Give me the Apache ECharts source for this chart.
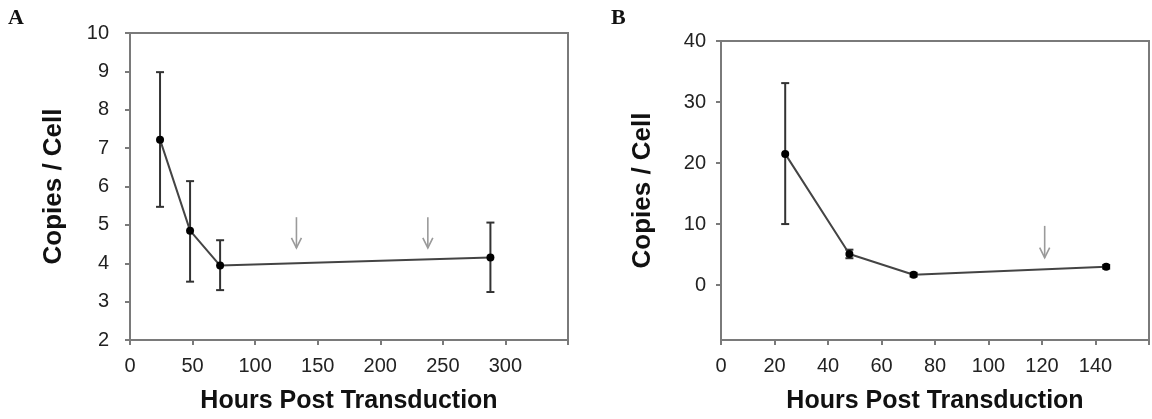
<!DOCTYPE html>
<html>
<head>
<meta charset="utf-8">
<script src="https://cdn.jsdelivr.net/npm/echarts@6/dist/echarts.min.js"></script>
<style>
  html, body { margin: 0; padding: 0; background: #fff; }
  #chart { width: 1152px; height: 419px; }
</style>
</head>
<body>
<div id="chart"></div>
<script>
// panel A
var hoursA = [24, 48, 72, 288];
var copiesA = [7.22, 4.85, 3.94, 4.15];
var lowA = [5.47, 3.52, 3.30, 3.25];
var highA = [8.98, 6.14, 4.60, 5.06];
var arrowHoursA = [133, 238];
var arrowTopA = 5.2, arrowTipA = 4.4;

// panel B
var hoursB = [24, 48, 72, 144];
var copiesB = [21.5, 5.1, 1.7, 3.0];
var lowB = [10.0, 4.4, 1.4, 2.7];
var highB = [33.1, 5.8, 2.0, 3.3];
var arrowHoursB = [121];
var arrowTopB = 9.7, arrowTipB = 4.5;

var yTicksB = [0, 10, 20, 30, 40];

var font = 'Liberation Sans, Arial, sans-serif';
var axisGray = '#7a7a7a';

function pairs(xs, ys) {
  var res = [];
  for (var i = 0; i < xs.length; i++) res.push([xs[i], ys[i]]);
  return res;
}
function errData(xs, lo, hi) {
  var res = [];
  for (var i = 0; i < xs.length; i++) res.push([xs[i], lo[i], hi[i]]);
  return res;
}
function arrowData(xs, top, tip) {
  var res = [];
  for (var i = 0; i < xs.length; i++) res.push([xs[i], top, tip]);
  return res;
}

function renderErr(params, api) {
  var x = api.value(0);
  var pLo = api.coord([x, api.value(1)]);
  var pHi = api.coord([x, api.value(2)]);
  var w = 4;
  var st = { stroke: '#333', lineWidth: 2 };
  return {
    type: 'group',
    children: [
      { type: 'line', shape: { x1: pLo[0], y1: pLo[1], x2: pHi[0], y2: pHi[1] }, style: st },
      { type: 'line', shape: { x1: pLo[0] - w, y1: pLo[1], x2: pLo[0] + w, y2: pLo[1] }, style: st },
      { type: 'line', shape: { x1: pHi[0] - w, y1: pHi[1], x2: pHi[0] + w, y2: pHi[1] }, style: st }
    ]
  };
}

function renderArrow(params, api) {
  var x = api.value(0);
  var pTop = api.coord([x, api.value(1)]);
  var pTip = api.coord([x, api.value(2)]);
  var st = { stroke: '#9a9a9a', lineWidth: 1.6, fill: null };
  return {
    type: 'group',
    children: [
      { type: 'line', shape: { x1: pTop[0], y1: pTop[1], x2: pTip[0], y2: pTip[1] }, style: st },
      { type: 'polyline', shape: { points: [[pTip[0] - 5, pTip[1] - 10], [pTip[0], pTip[1]], [pTip[0] + 5, pTip[1] - 10]] }, style: st }
    ]
  };
}

function xAxisCfg(idx, max, step) {
  return {
    type: 'value', gridIndex: idx, min: 0, max: max, interval: step,
    name: 'Hours Post Transduction', nameLocation: 'middle', nameGap: 49,
    nameTextStyle: { fontFamily: font, fontWeight: 'bold', fontSize: 25, color: '#111' },
    axisLine: { onZero: false, lineStyle: { color: axisGray, width: 2 } },
    axisTick: { show: true, inside: false, length: 5, lineStyle: { color: axisGray, width: 2 } },
    axisLabel: {
      fontFamily: font, fontSize: 20, color: '#222', margin: 16,
      formatter: function (v) { return v === max ? '' : String(v); }
    },
    splitLine: { show: false }
  };
}

function yAxisCfg(idx, min, max, gap, labelGap) {
  return {
    type: 'value', gridIndex: idx, min: min, max: max,
    name: 'Copies / Cell', nameLocation: 'middle', nameGap: gap, nameRotate: 90,
    nameTextStyle: { fontFamily: font, fontWeight: 'bold', fontSize: 26, color: '#111' },
    axisLine: { onZero: false, lineStyle: { color: axisGray, width: 2 } },
    axisTick: { show: true, inside: false, length: 5, lineStyle: { color: axisGray, width: 2 } },
    axisLabel: { fontFamily: font, fontSize: 20, color: '#222', margin: labelGap },
    splitLine: { show: false }
  };
}

var yA = yAxisCfg(0, 2, 10, 63, 21);
yA.interval = 1;
var yB = yAxisCfg(1, -9, 40, 65, 15);
yB.axisLabel.customValues = yTicksB;
yB.axisTick.customValues = yTicksB;

var lineStyle = { color: '#444', width: 2 };

var option = {
  animation: false,
  backgroundColor: '#fff',
  graphic: [
    { type: 'text', left: 8, top: 7, style: { text: 'A', font: 'bold 22px "Liberation Serif", serif', fill: '#111' } },
    { type: 'text', left: 611, top: 7, style: { text: 'B', font: 'bold 22px "Liberation Serif", serif', fill: '#111' } }
  ],
  grid: [
    { left: 130, top: 33, width: 438, height: 309, show: true, borderColor: axisGray, borderWidth: 2, backgroundColor: 'transparent' },
    { left: 721, top: 41, width: 429, height: 302, show: true, borderColor: axisGray, borderWidth: 2, backgroundColor: 'transparent' }
  ],
  xAxis: [xAxisCfg(0, 350, 50), xAxisCfg(1, 160, 20)],
  yAxis: [yA, yB],
  series: [
    {
      type: 'line', xAxisIndex: 0, yAxisIndex: 0, data: pairs(hoursA, copiesA),
      symbol: 'circle', symbolSize: 8, itemStyle: { color: '#000' }, lineStyle: lineStyle, z: 3
    },
    {
      type: 'custom', xAxisIndex: 0, yAxisIndex: 0, data: errData(hoursA, lowA, highA),
      encode: { x: 0, y: [1, 2] }, renderItem: renderErr, z: 2
    },
    {
      type: 'custom', xAxisIndex: 0, yAxisIndex: 0, data: arrowData(arrowHoursA, arrowTopA, arrowTipA),
      encode: { x: 0, y: [1, 2] }, renderItem: renderArrow, z: 2
    },
    {
      type: 'line', xAxisIndex: 1, yAxisIndex: 1, data: pairs(hoursB, copiesB),
      symbol: 'circle', symbolSize: 8, itemStyle: { color: '#000' }, lineStyle: lineStyle, z: 3
    },
    {
      type: 'custom', xAxisIndex: 1, yAxisIndex: 1, data: errData(hoursB, lowB, highB),
      encode: { x: 0, y: [1, 2] }, renderItem: renderErr, z: 2
    },
    {
      type: 'custom', xAxisIndex: 1, yAxisIndex: 1, data: arrowData(arrowHoursB, arrowTopB, arrowTipB),
      encode: { x: 0, y: [1, 2] }, renderItem: renderArrow, z: 2
    }
  ]
};

var myChart = echarts.init(document.getElementById('chart'));
myChart.setOption(option);
</script>
</body>
</html>
